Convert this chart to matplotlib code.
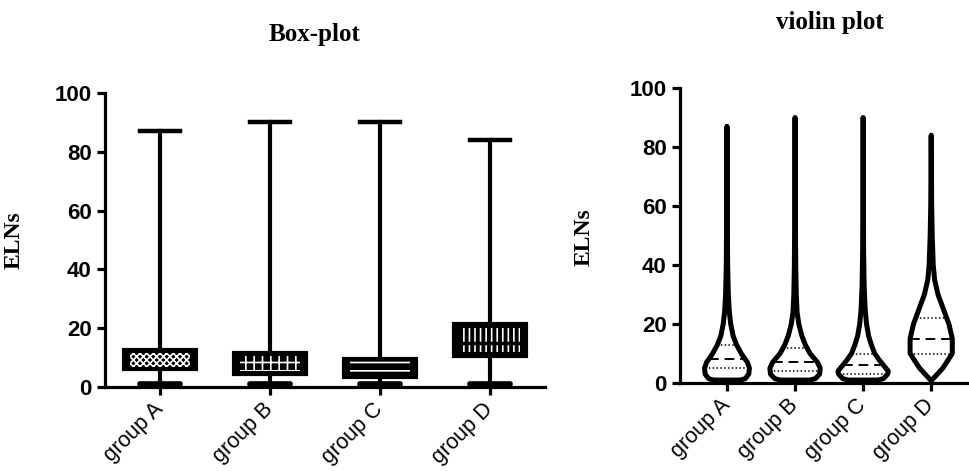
import numpy as np
import matplotlib
matplotlib.use('Agg')
import matplotlib.pyplot as plt
from matplotlib.patches import Rectangle

plt.rcParams['hatch.color'] = 'white'
plt.rcParams['hatch.linewidth'] = 1.2

groups = ['group A', 'group B', 'group C', 'group D']

# box-plot summary values
box_min = [1, 1, 1, 1]
box_q1 = [6, 4.5, 3.5, 10.5]
box_med = [8, 7, 6, 15]
box_q3 = [12.5, 11.5, 9.5, 21.5]
box_max = [87, 90, 90, 84]
hatches = ['xxxxx', '++', '--', '|||']

# violin outlines: y levels and half widths (category units)
vio_y = [
    [1, 1.5, 3, 5, 7, 10, 13, 16, 20, 24, 30, 40, 60, 87],
    [1, 1.5, 3, 5, 7, 10, 13, 16, 20, 24, 30, 40, 60, 90],
    [1, 1.5, 3, 4, 6, 8, 10, 13, 16, 20, 25, 33, 45, 90],
    [1, 5, 10, 15, 20, 25, 30, 35, 40, 50, 60, 84],
]
vio_w = [
    [0.20, 0.27, 0.32, 0.33, 0.30, 0.21, 0.14, 0.09, 0.055, 0.035, 0.02, 0.01, 0.004, 0],
    [0.22, 0.30, 0.36, 0.37, 0.33, 0.22, 0.15, 0.10, 0.055, 0.03, 0.018, 0.01, 0.004, 0],
    [0.22, 0.30, 0.36, 0.37, 0.30, 0.23, 0.17, 0.12, 0.08, 0.05, 0.03, 0.015, 0.007, 0],
    [0.01, 0.17, 0.31, 0.31, 0.26, 0.18, 0.10, 0.05, 0.03, 0.015, 0.007, 0],
]
vio_q1 = [5, 4, 3, 10]
vio_med = [8, 7, 6, 15]
vio_q3 = [13, 12, 10, 22]

fig = plt.figure(figsize=(9.7, 4.71), dpi=100)
ax1 = fig.add_axes([105/970, 84/471, 440/970, 294/471])
ax2 = fig.add_axes([680/970, 88/471, 290/970, 295/471])

tickfont = {'family': 'Liberation Sans', 'weight': 'bold', 'size': 16}
labfont = {'family': 'Liberation Serif', 'weight': 'bold', 'size': 17}


def style_axes(ax):
	for s in ['top', 'right']:
		ax.spines[s].set_visible(False)
	for s in ['left', 'bottom']:
		ax.spines[s].set_linewidth(2.3)
	ax.tick_params(axis='both', length=6, width=2.3)
	ax.set_ylim(0, 100)
	ax.set_yticks([0, 20, 40, 60, 80, 100])
	ax.set_yticklabels(['0', '20', '40', '60', '80', '100'], fontdict=tickfont)
	ax.set_xticks(range(4))
	ax.set_xticklabels(groups, rotation=45, ha='right', va='center', rotation_mode='anchor',
		family='Liberation Sans', size=15.5)
	ax.tick_params(axis='x', pad=8)


# ---- box plot ----
x = np.arange(4)
stats = []
for i in range(4):
	stats.append({'med': box_med[i], 'q1': box_q1[i], 'q3': box_q3[i],
		'whislo': box_min[i], 'whishi': box_max[i], 'label': groups[i]})
ax1.bxp(stats, positions=x, widths=0.66, showfliers=False, patch_artist=True,
	boxprops={'facecolor': 'black', 'edgecolor': 'black', 'linewidth': 3},
	whiskerprops={'linewidth': 3, 'color': 'black'},
	capprops={'linewidth': 3.2, 'color': 'black'},
	medianprops={'linewidth': 0},
	capwidths=0.37, manage_ticks=False)
for i in range(4):
	h = box_q3[i] - box_q1[i]
	r = Rectangle((x[i] - 0.27, box_q1[i] + 0.12*h), 0.54, 0.76*h,
		facecolor='black', hatch=hatches[i], zorder=3)
	ax1.add_patch(r)
	if i == 3:
		ax1.plot([x[i] - 0.3, x[i] + 0.3], [box_med[i], box_med[i]], color='black', lw=2.5, zorder=4)
	# thick lower caps sitting on the axis
	ax1.plot([x[i] - 0.185, x[i] + 0.185], [box_min[i], box_min[i]], color='black', lw=4, zorder=4,
		clip_on=False, solid_capstyle='round')
ax1.set_xlim(-0.5, 3.5)
style_axes(ax1)
ax1.set_ylabel('ELNs', fontdict=labfont)
ax1.yaxis.set_label_coords(-0.182, 0.5)

# ---- violin plot ----
for i in range(4):
	yy = np.array(vio_y[i], dtype=float)
	ww = np.array(vio_w[i], dtype=float)
	xs = np.concatenate([i - ww, (i + ww)[::-1]])
	ys = np.concatenate([yy, yy[::-1]])
	ax2.fill(xs, ys, facecolor='white', edgecolor='black', lw=3.6, joinstyle='round', zorder=3)
	for val, ls, lw in [(vio_med[i], (0, (5, 3)), 1.4), (vio_q1[i], (0, (1, 1.5)), 1.1), (vio_q3[i], (0, (1, 1.5)), 1.1)]:
		w = np.interp(val, yy, ww)
		ax2.plot([i - w, i + w], [val, val], color='black', ls=ls, lw=lw, zorder=4)
ax2.set_xlim(-0.69, 3.57)
style_axes(ax2)
ax2.set_ylabel('ELNs', fontdict=labfont)
ax2.yaxis.set_label_coords(-0.293, 0.495)

fig.text(315/970, 1 - 34/471, 'Box-plot', ha='center', va='center',
	family='Liberation Serif', weight='bold', size=18)
fig.text(830/970, 1 - 23/471, 'violin plot', ha='center', va='center',
	family='Liberation Serif', weight='bold', size=18)

plt.savefig('out.png', dpi=100)
